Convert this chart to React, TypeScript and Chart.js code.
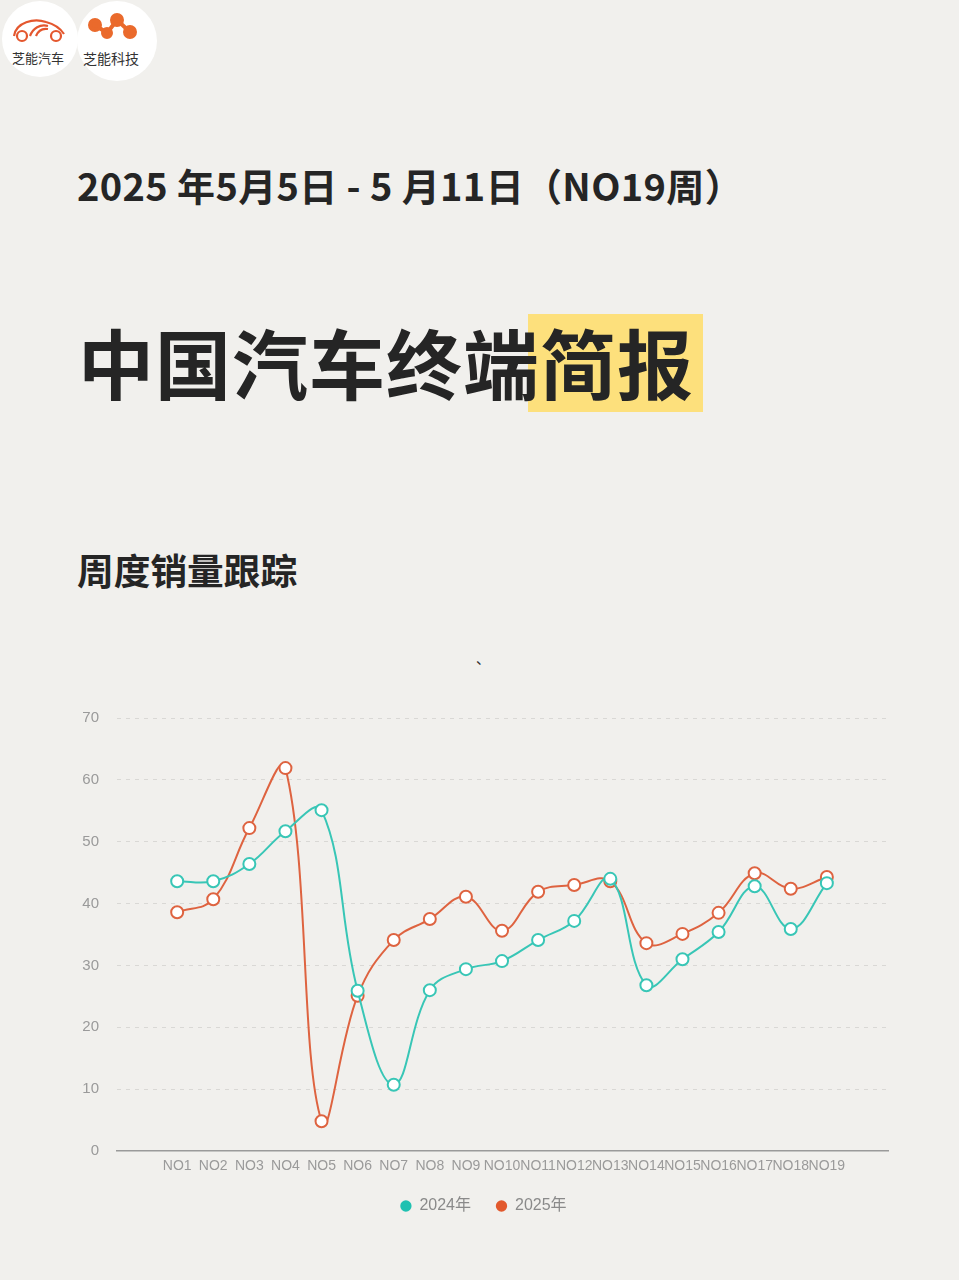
import React, { useEffect, useRef } from "react";
import { Chart, registerables } from "chart.js";

Chart.register(...registerables);

const weeks = ["NO1","NO2","NO3","NO4","NO5","NO6","NO7","NO8","NO9","NO10","NO11","NO12","NO13","NO14","NO15","NO16","NO17","NO18","NO19"];
const sales2024 = [43.6, 43.6, 46.4, 51.7, 55.1, 25.9, 10.7, 26.0, 29.4, 30.7, 34.1, 37.2, 44.0, 26.8, 31.0, 35.4, 42.8, 35.9, 43.3];
const sales2025 = [38.6, 40.7, 52.2, 61.9, 4.8, 25.1, 34.1, 37.5, 41.1, 35.6, 41.9, 43.0, 43.6, 33.6, 35.1, 38.5, 44.9, 42.4, 44.3];
const seriesNames = ["2024年", "2025年"];
const yTicks = [0, 10, 20, 30, 40, 50, 60, 70];

const TEAL = "#38c6b6";
const ORANGE = "#de6340";
const TEAL_DOT = "#1fc1b1";
const ORANGE_DOT = "#e2592d";

const FONT = '"Liberation Sans", Arial, "Noto Sans CJK SC", sans-serif';
const CJK = '"Noto Sans CJK SC", "Noto Sans", sans-serif';

function LineChart() {
  const ref = useRef<HTMLCanvasElement | null>(null);
  useEffect(() => {
    if (!ref.current) return;
    const colors = [TEAL, ORANGE];
    const dots = [TEAL_DOT, ORANGE_DOT];
    const chart = new Chart(ref.current, {
      type: "line",
      data: {
        datasets: [sales2024, sales2025].map((vals, k) => ({
          label: seriesNames[k],
          data: vals.map((y, i) => ({ x: i, y })),
          borderColor: colors[k],
          backgroundColor: colors[k],
          borderWidth: 2,
          pointRadius: 6,
          pointHoverRadius: 6,
          pointBorderWidth: 2,
          pointBackgroundColor: "#ffffff",
          pointBorderColor: colors[k],
          tension: 0.4,
          fill: false,
        })),
      },
      options: {
        animation: false,
        responsive: false,
        devicePixelRatio: 1,
        layout: { padding: { left: 79, right: 71, top: 9, bottom: 16 } },
        plugins: {
          tooltip: { enabled: false },
          legend: {
            position: "bottom",
            labels: {
              usePointStyle: true,
              pointStyle: "circle",
              boxWidth: 11,
              boxHeight: 8,
              padding: 25,
              color: "#8a8a8a",
              font: { family: FONT, size: 16 },
              generateLabels: (c: any) => {
                const items = Chart.defaults.plugins.legend.labels.generateLabels(c);
                return items.map((it: any, i: number) => ({
                  ...it,
                  fillStyle: dots[i],
                  strokeStyle: dots[i],
                  lineWidth: 0,
                  pointStyle: "circle",
                }));
              },
            },
          },
        },
        scales: {
          x: {
            type: "linear",
            min: -1.667,
            max: 19.694,
            afterBuildTicks: (scale: any) => {
              scale.ticks = weeks.map((_, i) => ({ value: i }));
            },
            afterFit: (scale: any) => {
              scale.height = 22;
            },
            grid: { display: false, drawTicks: false },
            border: { display: true, color: "#9a9a9a", width: 1.5 },
            ticks: {
              autoSkip: false,
              maxRotation: 0,
              minRotation: 0,
              padding: 7,
              color: "#9a9a9a",
              font: { family: FONT, size: 14 },
              callback: (v: any) => weeks[v as number] ?? "",
            },
          },
          y: {
            min: 0,
            max: 70,
            afterBuildTicks: (scale: any) => {
              scale.ticks = yTicks.map((v) => ({ value: v }));
            },
            afterFit: (scale: any) => {
              scale.width = 38;
            },
            grid: {
              color: (ctx: any) => (ctx.tick && ctx.tick.value === 0 ? "rgba(0,0,0,0)" : "#d9d8d5"),
              lineWidth: 1,
              drawTicks: false,
            },
            border: { display: false, dash: [4, 5] },
            ticks: {
              padding: 18,
              color: "#9a9a9a",
              font: { family: FONT, size: 15 },
            },
          },
        },
      } as any,
    });
    return () => chart.destroy();
  }, []);
  return (
    <canvas
      ref={ref}
      width={959}
      height={549}
      style={{ position: "absolute", left: 0, top: 691, width: 959, height: 549 }}
    />
  );
}

function Logos() {
  return (
    <>
      <div style={{ position: "absolute", left: 2, top: 1, width: 76, height: 76, borderRadius: "50%", background: "#ffffff" }} />
      <div style={{ position: "absolute", left: 77, top: 1, width: 80, height: 80, borderRadius: "50%", background: "#ffffff" }} />
      <svg style={{ position: "absolute", left: 0, top: 0 }} width={170} height={90}>
        <g fill="none" stroke="#e4572e" strokeWidth={2.2}>
          <path d="M14 36 C16 22, 34 18, 46 22 C54 24, 60 28, 64 34" />
          <circle cx={22} cy={36} r={5} />
          <circle cx={56} cy={36} r={5} />
          <path d="M30 36 C33 28, 40 24, 48 26" />
          <path d="M36 36 C38 31, 42 28, 48 29" />
        </g>
        <g stroke="#ea6a2c" strokeWidth={4} fill="#ea6a2c">
          <polyline points="95,25 107,33 117,20 130,32" fill="none" />
          <circle cx={95} cy={25} r={5} />
          <circle cx={107} cy={33} r={4} />
          <circle cx={117} cy={20} r={5} />
          <circle cx={130} cy={32} r={5} />
        </g>
      </svg>
      <div style={{ position: "absolute", left: 12, top: 48, fontFamily: CJK, fontSize: 13, color: "#333", whiteSpace: "nowrap" }}>芝能汽车</div>
      <div style={{ position: "absolute", left: 83, top: 48, fontFamily: CJK, fontSize: 14, color: "#333", whiteSpace: "nowrap" }}>芝能科技</div>
    </>
  );
}

export default function App() {
  useEffect(() => {
    document.body.style.margin = "0";
    document.body.style.background = "#f1f0ed";
  }, []);
  return (
    <div style={{ position: "absolute", left: 0, top: 0, width: 959, height: 1280, background: "#f1f0ed", overflow: "hidden" }}>
      <Logos />
      <div style={{ position: "absolute", left: 77, top: 159, fontFamily: CJK, fontWeight: 700, fontSize: 38, lineHeight: "52px", color: "#252525", whiteSpace: "nowrap", letterSpacing: 0.35 }}>
        2025 年5月5日 - 5 月11日（NO19周）
      </div>
      <div style={{ position: "absolute", left: 528, top: 314, width: 175, height: 98, background: "#fde07c" }} />
      <div style={{ position: "absolute", left: 78, top: 313, fontFamily: CJK, fontWeight: 700, fontSize: 76, lineHeight: "96px", color: "#252525", whiteSpace: "nowrap", letterSpacing: 1 }}>
        中国汽车终端简报
      </div>
      <div style={{ position: "absolute", left: 77, top: 545, fontFamily: CJK, fontWeight: 700, fontSize: 36.7, lineHeight: "48px", color: "#252525", whiteSpace: "nowrap" }}>
        周度销量跟踪
      </div>
      <div style={{ position: "absolute", left: 476, top: 648, fontFamily: CJK, fontSize: 14, color: "#333" }}>、</div>
      <LineChart />
    </div>
  );
}
